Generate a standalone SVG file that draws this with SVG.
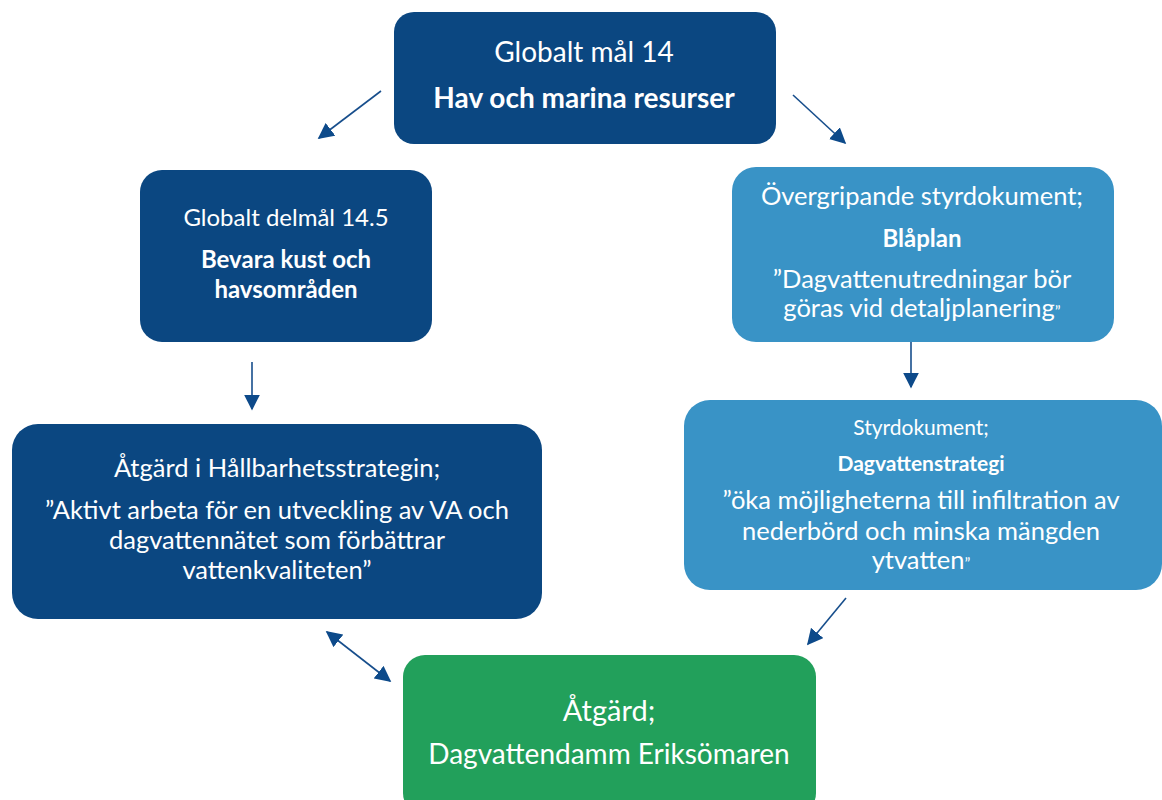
<svg xmlns="http://www.w3.org/2000/svg" width="1162" height="800" viewBox="0 0 1162 800">
<defs>
<style>
.dark{fill:#0b4781;}
.light{fill:#3993c6;}
.green{fill:#22a05b;}
text{font-family:Lato,"Open Sans","Liberation Sans",sans-serif;fill:#ffffff;text-anchor:middle;}
.b{font-weight:bold;}
.conn{stroke:#174e8c;stroke-width:1.6;fill:none;}
</style>
<marker id="ah" viewBox="0 0 10 10" refX="9" refY="5" markerWidth="16" markerHeight="16" markerUnits="userSpaceOnUse" orient="auto">
<path d="M0,0 L10,5 L0,10 Z" fill="#0d4a8a"/>
</marker>
<marker id="as" viewBox="0 0 10 10" refX="1" refY="5" markerWidth="16" markerHeight="16" markerUnits="userSpaceOnUse" orient="auto">
<path d="M10,0 L0,5 L10,10 Z" fill="#0d4a8a"/>
</marker>
</defs>
<rect width="1162" height="800" fill="#ffffff"/>
<g id="connectors">
<line class="conn" x1="381" y1="91" x2="319" y2="138" marker-end="url(#ah)"/>
<line class="conn" x1="793" y1="95" x2="845" y2="143" marker-end="url(#ah)"/>
<line class="conn" x1="252" y1="362" x2="252" y2="409" marker-end="url(#ah)"/>
<line class="conn" x1="911" y1="342" x2="911" y2="387" marker-end="url(#ah)"/>
<line class="conn" x1="846" y1="598" x2="808" y2="644" marker-end="url(#ah)"/>
<line class="conn" x1="327" y1="632" x2="390" y2="681" marker-start="url(#as)" marker-end="url(#ah)"/>
</g>
<g id="n-globalt-mal">
<rect class="dark" x="394" y="12" width="382" height="132" rx="20"/>
<text x="584" y="62" font-size="28">Globalt mål 14</text>
<text class="b" x="584" y="108" font-size="28">Hav och marina resurser</text>
</g>
<g id="n-delmal">
<rect class="dark" x="140" y="170" width="292" height="172" rx="22"/>
<text x="286" y="226" font-size="24">Globalt delmål 14.5</text>
<text class="b" x="286" y="268" font-size="24">Bevara kust och</text>
<text class="b" x="286" y="298" font-size="24">havsområden</text>
</g>
<g id="n-blaplan">
<rect class="light" x="732" y="167" width="382" height="175" rx="24"/>
<text x="922" y="205" font-size="25.5">Övergripande styrdokument;</text>
<text class="b" x="922" y="247" font-size="24">Blåplan</text>
<text x="922" y="288" font-size="25.5">”Dagvattenutredningar bör</text>
<text x="922" y="317" font-size="25.5">göras vid detaljplanering<tspan font-size="16">”</tspan></text>
</g>
<g id="n-hallbarhet">
<rect class="dark" x="12" y="424" width="530" height="195" rx="26"/>
<text x="277" y="477" font-size="25.5">Åtgärd i Hållbarhetsstrategin;</text>
<text x="277" y="519" font-size="25.5">”Aktivt arbeta för en utveckling av VA och</text>
<text x="277" y="549" font-size="25.5">dagvattennätet som förbättrar</text>
<text x="277" y="579" font-size="25.5">vattenkvaliteten”</text>
</g>
<g id="n-dagvattenstrategi">
<rect class="light" x="684" y="400" width="478" height="190" rx="26"/>
<text x="921" y="435" font-size="21">Styrdokument;</text>
<text class="b" x="921" y="471" font-size="21">Dagvattenstrategi</text>
<text x="921" y="509" font-size="25.5">”öka möjligheterna till infiltration av</text>
<text x="921" y="540" font-size="25.5">nederbörd och minska mängden</text>
<text x="921" y="569" font-size="25.5">ytvatten<tspan font-size="16">”</tspan></text>
</g>
<g id="n-eriksomaren">
<rect class="green" x="403" y="655" width="413" height="160" rx="22"/>
<text x="609" y="721" font-size="29">Åtgärd;</text>
<text x="609" y="764" font-size="28">Dagvattendamm Eriksömaren</text>
</g>
</svg>
